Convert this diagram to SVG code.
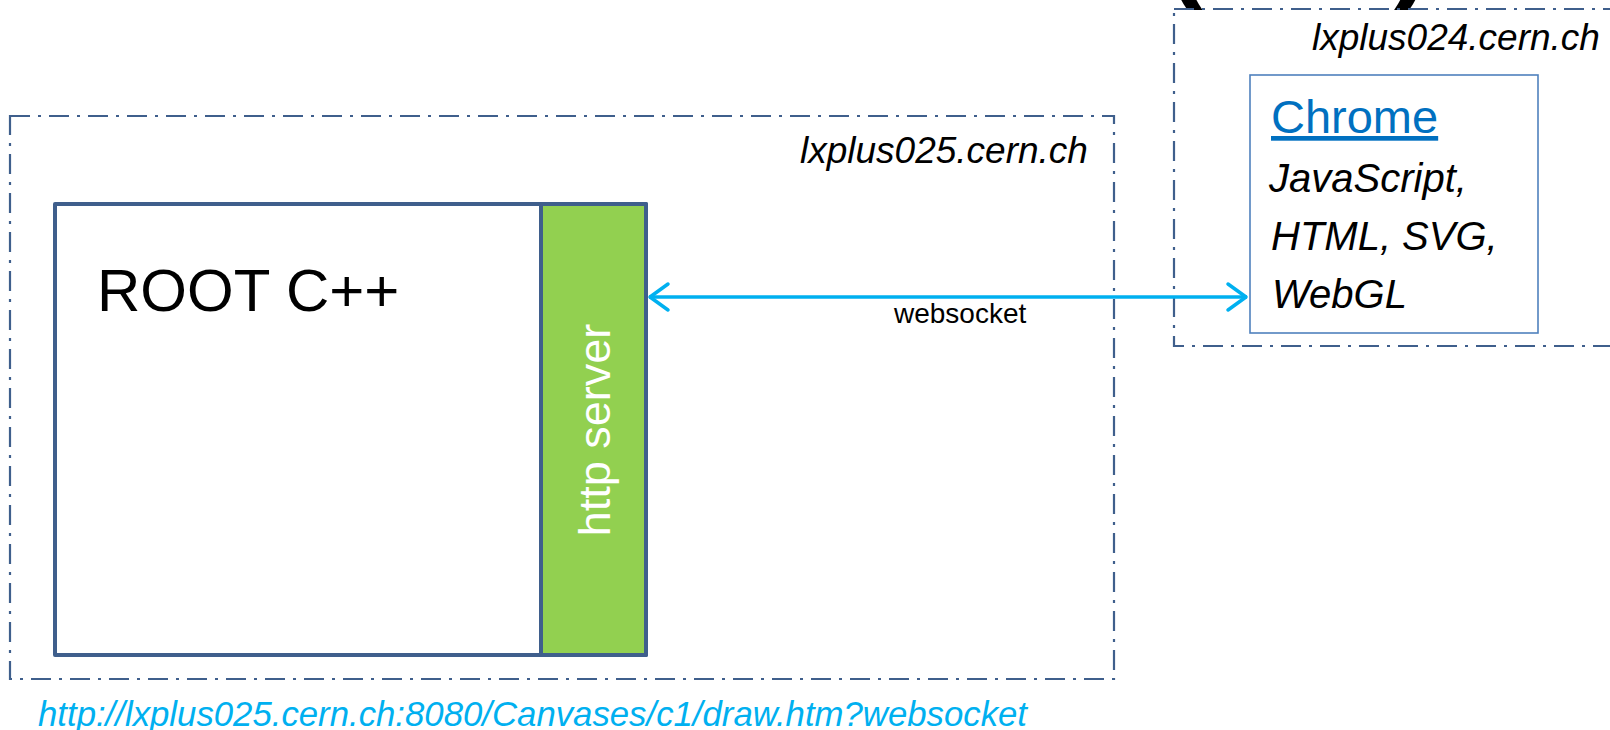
<svg xmlns="http://www.w3.org/2000/svg" width="1610" height="730" viewBox="0 0 1610 730">
  <style>
    .host { fill: none; stroke: #3F5F8C; stroke-width: 2.2; stroke-dasharray: 20 8 3 8; }
    .hostlbl { font-family: "Liberation Sans", Arial, sans-serif; font-style: italic; font-size: 37px; fill: #000; }
    .box { stroke: #3F5F8C; stroke-width: 4; stroke-linejoin: round; }
    .sans { font-family: "Liberation Sans", Arial, sans-serif; }
    .conn { stroke: #00B0F0; stroke-width: 3.5; fill: none; }
  </style>
  <defs>
    <marker id="chev" viewBox="-22 -16 24 32" markerWidth="24" markerHeight="32" refX="0" refY="0" orient="auto-start-reverse" markerUnits="userSpaceOnUse">
      <path d="M -19 -13 L -1 0 L -19 13" fill="none" stroke="#00B0F0" stroke-width="3.5" stroke-linecap="round" stroke-linejoin="round"/>
    </marker>
  </defs>
  <rect width="1610" height="730" fill="#ffffff"/>

  <!-- partial large parentheses cut off at the top edge -->
  <g id="top-fragment">
    <text x="1166" y="-13" class="sans" font-size="110" font-weight="bold" fill="#000">(</text>
    <text x="1394" y="-13" class="sans" font-size="110" font-weight="bold" fill="#000">)</text>
  </g>

  <g id="host-lxplus025">
    <rect class="host" x="10" y="116" width="1104" height="563"/>
    <text class="hostlbl" x="800" y="163">lxplus025.cern.ch</text>
  </g>

  <g id="host-lxplus024">
    <rect class="host" x="1174" y="9" width="480" height="337"/>
    <text class="hostlbl" x="1312" y="50">lxplus024.cern.ch</text>
  </g>

  <g id="root-cpp">
    <rect class="box" x="55" y="204" width="591" height="451" fill="#ffffff"/>
    <text class="sans" x="97" y="311" font-size="60" fill="#000">ROOT C++</text>
  </g>

  <g id="http-server">
    <rect class="box" x="541" y="204" width="105" height="451" fill="#92D050"/>
    <text class="sans" x="610" y="430" font-size="45" fill="#ffffff" text-anchor="middle" transform="rotate(-90 610 430)">http server</text>
  </g>

  <g id="chrome">
    <rect x="1250" y="75" width="288" height="258" fill="#ffffff" stroke="#4F81BD" stroke-width="1.6"/>
    <text class="sans" x="1271" y="133" font-size="47" fill="#0070C0" text-decoration="underline">Chrome</text>
    <text class="sans" x="1269" y="192" font-size="40" font-style="italic" fill="#000">JavaScript,</text>
    <text class="sans" x="1271" y="250" font-size="40" font-style="italic" fill="#000">HTML, SVG,</text>
    <text class="sans" x="1272" y="308" font-size="40" font-style="italic" fill="#000">WebGL</text>
  </g>

  <g id="connectors">
    <line class="conn" x1="649" y1="297" x2="1247" y2="297" marker-start="url(#chev)" marker-end="url(#chev)"/>
    <text class="sans" x="894" y="323" font-size="28" fill="#000">websocket</text>
  </g>

  <g id="url">
    <text class="sans" x="38" y="726" font-size="35" font-style="italic" fill="#00B0F0" textLength="989" lengthAdjust="spacingAndGlyphs">http://lxplus025.cern.ch:8080/Canvases/c1/draw.htm?websocket</text>
  </g>
</svg>
